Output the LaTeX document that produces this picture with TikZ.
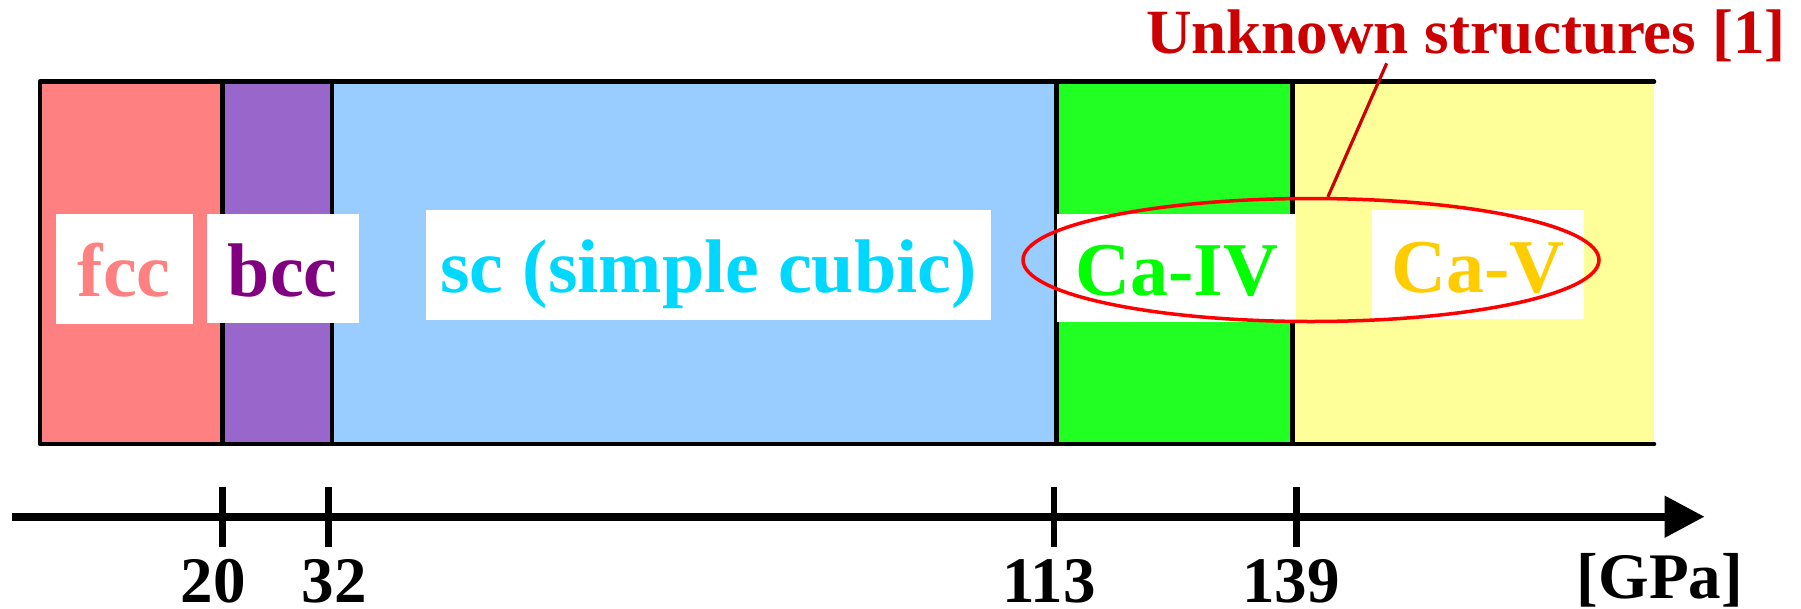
\documentclass[tikz,border=0pt]{standalone}
\usepackage{fontspec}
\setmainfont{Liberation Serif}
\usetikzlibrary{shapes.geometric,arrows.meta}
\definecolor{fccfill}{HTML}{FF8080}
\definecolor{bccfill}{HTML}{9966CC}
\definecolor{bcctext}{HTML}{800080}
\definecolor{scfill}{HTML}{99CCFF}
\definecolor{sctext}{HTML}{00D8FF}
\definecolor{ivfill}{HTML}{22FF22}
\definecolor{ivtext}{HTML}{00FF00}
\definecolor{vfill}{HTML}{FFFF99}
\definecolor{vtext}{HTML}{FFCC00}
\definecolor{darkred}{HTML}{CC0000}
\definecolor{ringred}{HTML}{FF0000}
\begin{document}
\begin{tikzpicture}[x=1pt,y=-1pt,
  frame/.style={line width=4.6pt, line join=round, line cap=round},
  divider/.style={line width=4.6pt},
  whitebox/.style={fill=white, draw=none, inner sep=0pt, outer sep=0pt},
  phase/.style={anchor=base, inner sep=0pt, font=\fontsize{76}{80}\selectfont\bfseries},
  ticklabel/.style={anchor=base, inner sep=0pt, font=\fontsize{65}{70}\selectfont\bfseries},
  tickmark/.style={line width=6.5pt},
  ring/.style={draw=ringred, line width=3.5pt, ellipse, inner sep=0pt,
    minimum width=576pt, minimum height=123pt},
]
\useasboundingbox (0,0) rectangle (1801,608);

% pressure ranges of the phases
\fill[fccfill] (40,81.7) rectangle (222.7,444);
\fill[bccfill] (222.7,81.7) rectangle (331.8,444);
\fill[scfill] (331.8,81.7) rectangle (1056.2,444);
\fill[ivfill] (1056.2,81.7) rectangle (1292.7,444);
\fill[vfill] (1292.7,81.7) rectangle (1654,444);

% outline, open on the right
\draw[frame] (1654,81.7) -- (40,81.7) -- (40,444) -- (1654,444);
\foreach \x in {222.7,331.8,1056.2,1292.7}
  \draw[divider] (\x,81.7) -- (\x,444);

% label boxes
\node[whitebox, minimum width=136.6pt, minimum height=109.7pt] (fccbox) at (124.2,268.9) {};
\node[whitebox, minimum width=151.6pt, minimum height=108.7pt] (bccbox) at (282.8,268.4) {};
\node[whitebox, minimum width=565pt, minimum height=109.7pt] (scbox) at (708.5,264.9) {};
\node[whitebox, minimum width=239pt, minimum height=108pt] (ivbox) at (1176.8,268) {};
\node[whitebox, minimum width=212pt, minimum height=109.3pt] (vbox) at (1477.9,264.7) {};

\node[phase, text=fccfill] (fcc) at (124.2,296.7) {fcc};
\node[phase, text=bcctext] (bcc) at (282.8,296.7) {bcc};
\node[phase, text=sctext] (sc) at (708.5,292.7) {sc (simple cubic)};
\node[phase, text=ivtext] (caiv) at (1176.8,295.7) {Ca-IV};
\node[phase, text=vtext] (cav) at (1477.9,292.3) {Ca-V};

% unknown structures callout
\node[ring] (unk) at (1311,260) {};
\node[anchor=base, inner sep=0pt, text=darkred,
  font=\fontsize{63}{70}\selectfont\bfseries] (title) at (1466,53.3) {Unknown structures [1]};
\coordinate (lead) at (1386.7,63.3);
\draw[darkred, line width=3.2pt] (lead) -- (unk.75.6);

% pressure axis
\coordinate (axstart) at (11.5,516.7);
\coordinate (axend) at (1704.6,516.7);
\draw[line width=8pt, -{Triangle[length=40pt,width=40pt]}] (axstart) -- (axend);
\foreach \x in {222.7,328.4,1054,1296.5}
  \draw[tickmark] (\x,486.7) -- (\x,546.7);
\node[ticklabel] (t20) at (213,602) {20};
\node[ticklabel] (t32) at (334,602) {32};
\node[ticklabel] (t113) at (1049,602) {113};
\node[ticklabel] (t139) at (1291,602) {139};
\node[ticklabel] (unit) at (1660,598) {[GPa]};
\end{tikzpicture}
\end{document}
